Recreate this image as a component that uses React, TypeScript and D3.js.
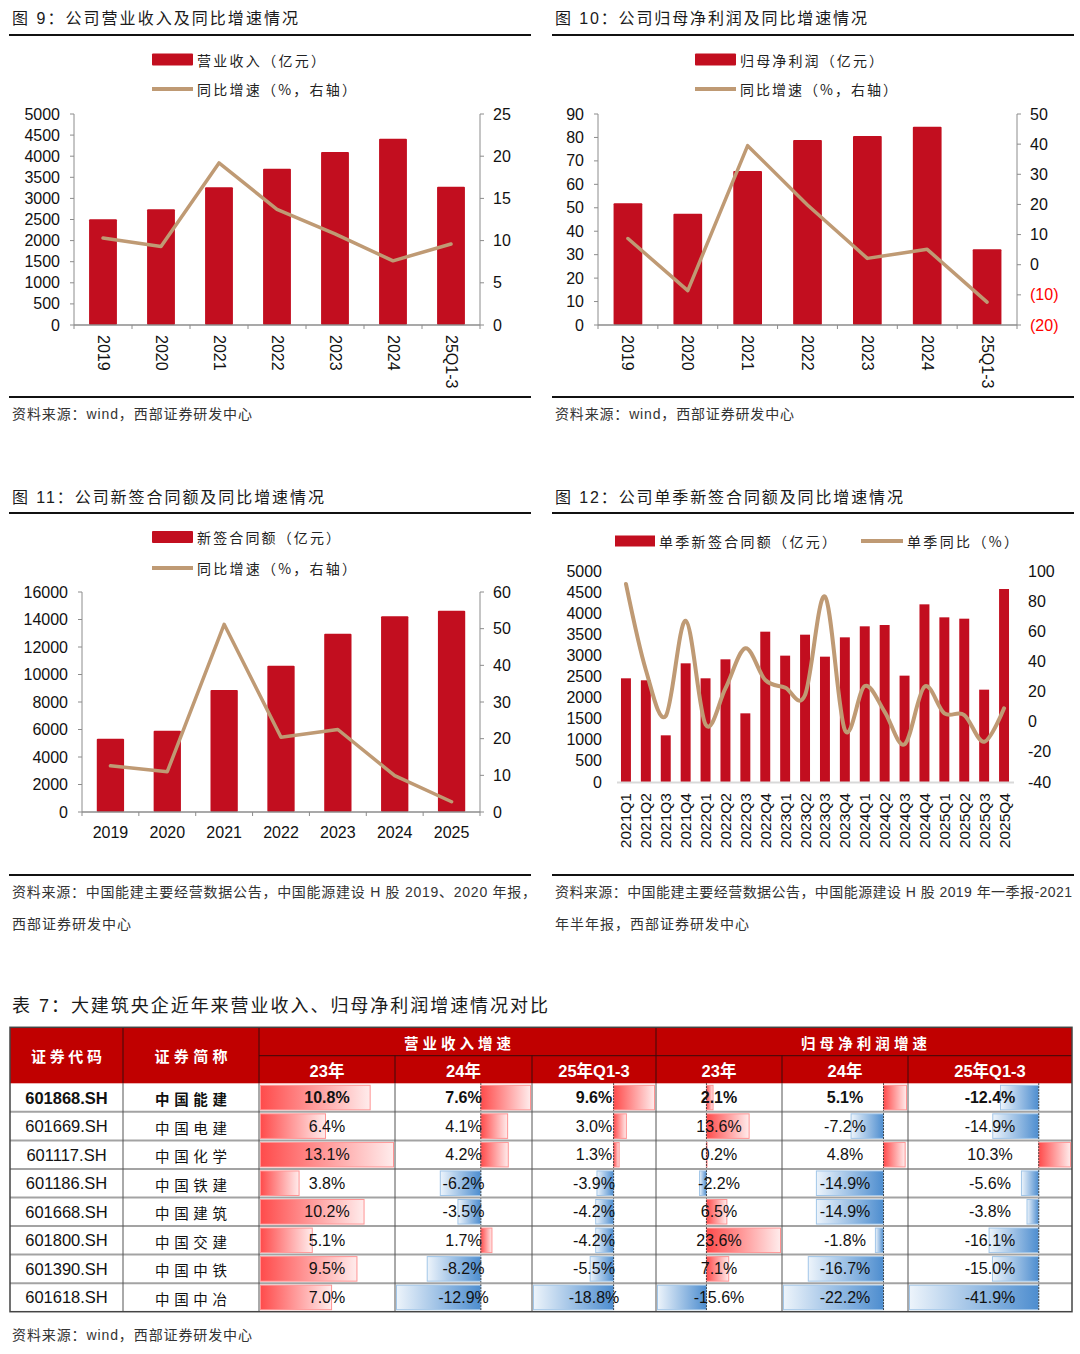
import React from 'react';
import * as d3 from 'd3';

// 图9 营业收入
const years = ['2019', '2020', '2021', '2022', '2023', '2024', '25Q1-3'];
const revenue = [2505, 2740, 3262, 3705, 4100, 4415, 3278];
const revenueYoY = [10.3, 9.3, 19.2, 13.7, 10.8, 7.6, 9.6];

// 图10 归母净利润
const profit = [51.9, 47.5, 65.7, 78.9, 80.6, 84.6, 32.3];
const profitYoY = [8.7, -8.6, 39.5, 19.8, 2.1, 5.1, -12.4];

// 图11 新签合同额
const contractYears = ['2019', '2020', '2021', '2022', '2023', '2024', '2025'];
const contracts = [5330, 5915, 8870, 10640, 12970, 14230, 14640];
const contractYoY = [12.6, 11.0, 51.2, 20.4, 22.5, 9.9, 2.8];

// 图12 单季新签
const quarters = [
  '2021Q1', '2021Q2', '2021Q3', '2021Q4', '2022Q1', '2022Q2', '2022Q3', '2022Q4',
  '2023Q1', '2023Q2', '2023Q3', '2023Q4', '2024Q1', '2024Q2', '2024Q3', '2024Q4',
  '2025Q1', '2025Q2', '2025Q3', '2025Q4',
];
const qContracts = [2457, 2410, 1106, 2812, 2457, 2907, 1627, 3562, 2994, 3491, 2970, 3428, 3689, 3720, 2520, 4210, 3902, 3870, 2188, 4573];
const qYoY = [91.4, 34.3, 3.8, 67.0, -1.8, 22.1, 48.7, 27.7, 22.6, 17.7, 83.0, -5.5, 23.7, 6.6, -15.0, 23.2, 5.6, 4.4, -13.3, 8.9];

// 表7
const codes = ['601868.SH', '601669.SH', '601117.SH', '601186.SH', '601668.SH', '601800.SH', '601390.SH', '601618.SH'];
const names = ['中国能建', '中国电建', '中国化学', '中国铁建', '中国建筑', '中国交建', '中国中铁', '中国中冶'];
const rev23 = [10.8, 6.4, 13.1, 3.8, 10.2, 5.1, 9.5, 7.0];
const rev24 = [7.6, 4.1, 4.2, -6.2, -3.5, 1.7, -8.2, -12.9];
const rev25 = [9.6, 3.0, 1.3, -3.9, -4.2, -4.2, -5.5, -18.8];
const np23 = [2.1, 13.6, 0.2, -2.2, 6.5, 23.6, 7.1, -15.6];
const np24 = [5.1, -7.2, 4.8, -14.9, -14.9, -1.8, -16.7, -22.2];
const np25 = [-12.4, -14.9, 10.3, -5.6, -3.8, -16.1, -15.0, -41.9];
const subHeads = ['23年', '24年', '25年Q1-3', '23年', '24年', '25年Q1-3'];

const NUM = "'Liberation Sans', Arial, 'Noto Sans CJK SC', sans-serif";
const CJK = "'Noto Sans CJK SC', 'Liberation Sans', sans-serif";
const RED = '#c20e1f';
const TAN = '#bf9a74';
const AXIS = '#8c8c8c';

type Note = { text: string; y: number; len: number };

function Frame(p: { x: number; x1: number; x2: number; titleY: number; title: string; titleLen: number; ruleTop: number; ruleBottom: number; notes: Note[] }) {
  return (
    <g>
      <text x={p.x} y={p.titleY} dominantBaseline="central" fontFamily={NUM} fontSize={16} fill="#1a1a1a"
        textLength={p.titleLen} lengthAdjust="spacing">{p.title}</text>
      <line x1={p.x1} x2={p.x2} y1={p.ruleTop} y2={p.ruleTop} stroke="#111" strokeWidth={2} />
      <line x1={p.x1} x2={p.x2} y1={p.ruleBottom} y2={p.ruleBottom} stroke="#111" strokeWidth={2} />
      {p.notes.map((n, i) => (
        <text key={i} x={p.x} y={n.y} dominantBaseline="central" fontFamily={NUM} fontSize={14} fill="#333"
          textLength={n.len} lengthAdjust="spacing">{n.text}</text>
      ))}
    </g>
  );
}

function Combo(p: any) {
  const x = d3.scaleBand<string>().domain(p.cats).range([p.left, p.right]).paddingInner(0.52).paddingOuter(0.26);
  const yL = d3.scaleLinear().domain([0, p.lMax]).range([p.bottom, p.top]);
  const yR = d3.scaleLinear().domain([p.rMin, p.rMax]).range([p.bottom, p.top]);
  const lTicks = d3.range(0, p.lMax + p.lStep / 2, p.lStep);
  const rTicks = d3.range(p.rMin, p.rMax + p.rStep / 2, p.rStep);
  const cx = (c: string) => x(c)! + x.bandwidth() / 2;
  const path = d3.line<number>().x((_, i) => cx(p.cats[i])).y(d => yR(d))(p.line)!;
  const bounds = d3.range(p.cats.length + 1).map(i => p.left + i * x.step());
  const tx = p.legendX + 45;
  return (
    <g>
      {/* legend */}
      <rect x={p.legendX} y={p.leg1Y - 6} width={41} height={12} fill={RED} rx={1} />
      <text x={tx} y={p.leg1Y} dominantBaseline="central" fontFamily={CJK} fontSize={14} fill="#222"
        textLength={p.leg1Len} lengthAdjust="spacing">{p.leg1}</text>
      <line x1={p.legendX} x2={p.legendX + 41} y1={p.leg2Y} y2={p.leg2Y} stroke={TAN} strokeWidth={4} />
      <text x={tx} y={p.leg2Y} dominantBaseline="central" fontFamily={CJK} fontSize={14} fill="#222"
        textLength={p.leg2Len} lengthAdjust="spacing">{p.leg2}</text>

      {/* bars */}
      {p.bars.map((v: number, i: number) => (
        <rect key={i} x={x(p.cats[i])} y={yL(v)} width={x.bandwidth()} height={p.bottom - yL(v)} fill={RED} rx={1} />
      ))}

      {/* axes */}
      <line x1={p.left} x2={p.left} y1={p.top} y2={p.bottom} stroke={AXIS} />
      <line x1={p.right} x2={p.right} y1={p.top} y2={p.bottom} stroke={AXIS} />
      <line x1={p.left} x2={p.right} y1={p.bottom} y2={p.bottom} stroke={AXIS} strokeWidth={1.5} />
      {bounds.map((b, i) => (
        <line key={i} x1={b} x2={b} y1={p.bottom} y2={p.bottom + 4} stroke={AXIS} />
      ))}
      {lTicks.map(t => (
        <g key={t}>
          <line x1={p.left - 4} x2={p.left} y1={yL(t)} y2={yL(t)} stroke={AXIS} />
          <text x={p.left - 14} y={yL(t)} textAnchor="end" dominantBaseline="central" fontFamily={NUM} fontSize={16} fill="#111">{t}</text>
        </g>
      ))}
      {rTicks.map(t => (
        <g key={t}>
          <line x1={p.right} x2={p.right + 4} y1={yR(t)} y2={yR(t)} stroke={AXIS} />
          <text x={p.right + 13} y={yR(t)} dominantBaseline="central" fontFamily={NUM} fontSize={16}
            fill={t < 0 ? '#ff0000' : '#111'}>{t < 0 ? `(${-t})` : t}</text>
        </g>
      ))}

      {/* line */}
      <path d={path} fill="none" stroke={TAN} strokeWidth={3.5} strokeLinejoin="round" strokeLinecap="round" />

      {/* category labels */}
      {p.cats.map((c: string) =>
        p.rotate ? (
          <text key={c} transform={`translate(${cx(c)},${p.bottom + 10}) rotate(90)`} dominantBaseline="central"
            fontFamily={NUM} fontSize={16} fill="#111">{c}</text>
        ) : (
          <text key={c} x={cx(c)} y={p.bottom + 20} textAnchor="middle" dominantBaseline="central"
            fontFamily={NUM} fontSize={16} fill="#111">{c}</text>
        )
      )}
    </g>
  );
}

function Quarterly() {
  const left = 616, right = 1014, top = 571, bottom = 782;
  const x = d3.scaleBand<string>().domain(quarters).range([left, right]).paddingInner(0.5).paddingOuter(0.25);
  const yL = d3.scaleLinear().domain([0, 5000]).range([bottom, top]);
  const yR = d3.scaleLinear().domain([-40, 100]).range([bottom, top]);
  const cx = (c: string) => x(c)! + x.bandwidth() / 2;
  const path = d3.line<number>().x((_, i) => cx(quarters[i])).y(d => yR(d)).curve(d3.curveCardinal.tension(0))(qYoY)!;
  return (
    <g>
      <rect x={615} y={535.5} width={40} height={11} fill={RED} />
      <text x={659} y={541} dominantBaseline="central" fontFamily={CJK} fontSize={14} fill="#222"
        textLength={177} lengthAdjust="spacing">单季新签合同额（亿元）</text>
      <line x1={861} x2={903} y1={541} y2={541} stroke={TAN} strokeWidth={4} />
      <text x={907} y={541} dominantBaseline="central" fontFamily={CJK} fontSize={14} fill="#222"
        textLength={111} lengthAdjust="spacing">单季同比（%）</text>

      {qContracts.map((v, i) => (
        <rect key={i} x={x(quarters[i])} y={yL(v)} width={x.bandwidth()} height={bottom - yL(v)} fill={RED} />
      ))}
      <line x1={left + 1} x2={right} y1={bottom + 0.5} y2={bottom + 0.5} stroke="#d9d9d9" strokeWidth={2} />
      {d3.range(0, 5001, 500).map(t => (
        <text key={t} x={602} y={yL(t)} textAnchor="end" dominantBaseline="central" fontFamily={NUM} fontSize={16} fill="#111">{t}</text>
      ))}
      {d3.range(-40, 101, 20).map(t => (
        <text key={t} x={1028} y={yR(t)} dominantBaseline="central" fontFamily={NUM} fontSize={16} fill="#111">{t}</text>
      ))}
      <path d={path} fill="none" stroke={TAN} strokeWidth={4} strokeLinejoin="round" strokeLinecap="round" />
      {quarters.map(q => (
        <text key={q} transform={`translate(${cx(q)},${bottom + 11}) rotate(-90)`} textAnchor="end" dominantBaseline="central"
          fontFamily={NUM} fontSize={15.5} fill="#111">{q}</text>
      ))}
    </g>
  );
}

function DataTable() {
  const colX = [10, 123, 259, 395, 532, 656, 782, 908, 1072];
  const top = 1027.3, mid = 1055.7, hb = 1083.3, rh = 28.55;
  const bottom = hb + rh * codes.length;
  const series = [rev23, rev24, rev25, np23, np24, np25];
  const rowY = (i: number) => hb + rh * i;
  return (
    <g>
      <defs>
        <linearGradient id="gPos" x1="0" x2="1" y1="0" y2="0">
          <stop offset="0" stopColor="#ff4b4b" />
          <stop offset="1" stopColor="#ffecec" />
        </linearGradient>
        <linearGradient id="gNeg" x1="0" x2="1" y1="0" y2="0">
          <stop offset="0" stopColor="#edf4fb" />
          <stop offset="1" stopColor="#4d8dcf" />
        </linearGradient>
      </defs>
      <text x={12} y={1006} dominantBaseline="central" fontFamily={NUM} fontSize={18} fill="#1a1a1a"
        textLength={536} lengthAdjust="spacing">表 7：大建筑央企近年来营业收入、归母净利润增速情况对比</text>

      {/* header */}
      <rect x={colX[0]} y={top} width={colX[8] - colX[0]} height={hb - top} fill="#c00000" />
      <line x1={colX[2]} x2={colX[8]} y1={mid} y2={mid} stroke="#3a0a0a" />
      {[1, 2, 5].map(j => <line key={j} x1={colX[j]} x2={colX[j]} y1={top} y2={hb} stroke="#3a0a0a" />)}
      {[3, 4, 6, 7].map(j => <line key={j} x1={colX[j]} x2={colX[j]} y1={mid} y2={hb} stroke="#3a0a0a" />)}
      <text x={(colX[0] + colX[1]) / 2} y={(top + hb) / 2} textAnchor="middle" dominantBaseline="central" fontFamily={CJK}
        fontSize={15} fontWeight={700} fill="#fff" textLength={71} lengthAdjust="spacing">证券代码</text>
      <text x={(colX[1] + colX[2]) / 2} y={(top + hb) / 2} textAnchor="middle" dominantBaseline="central" fontFamily={CJK}
        fontSize={15} fontWeight={700} fill="#fff" textLength={73} lengthAdjust="spacing">证券简称</text>
      <text x={(colX[2] + colX[5]) / 2} y={(top + mid) / 2 + 1} textAnchor="middle" dominantBaseline="central" fontFamily={CJK}
        fontSize={14.5} fontWeight={700} fill="#fff" textLength={107} lengthAdjust="spacing">营业收入增速</text>
      <text x={(colX[5] + colX[8]) / 2} y={(top + mid) / 2 + 1} textAnchor="middle" dominantBaseline="central" fontFamily={CJK}
        fontSize={14.5} fontWeight={700} fill="#fff" textLength={126} lengthAdjust="spacing">归母净利润增速</text>
      {subHeads.map((h, j) => (
        <text key={j} x={(colX[j + 2] + colX[j + 3]) / 2} y={(mid + hb) / 2 + 1} textAnchor="middle" dominantBaseline="central"
          fontFamily={NUM} fontSize={16.5} fontWeight={700} fill="#fff">{h}</text>
      ))}

      {/* data bars */}
      {series.map((vals, j) => {
        const x0 = colX[j + 2], x1 = colX[j + 3];
        const lo = Math.min(0, d3.min(vals)!), hi = Math.max(0, d3.max(vals)!);
        const sx = d3.scaleLinear().domain([lo, hi]).range([x0 + 1.5, x1 - 1.5]);
        return (
          <g key={j}>
            {vals.map((v, i) => {
              const a = sx(Math.min(0, v)), b = sx(Math.max(0, v));
              return (
                <rect key={i} x={a} y={rowY(i) + 2} width={Math.max(b - a, 0.5)} height={rh - 4}
                  fill={v >= 0 ? 'url(#gPos)' : 'url(#gNeg)'} stroke={v >= 0 ? '#ff9494' : '#a2c6e8'} strokeWidth={1} />
              );
            })}
            {lo < 0 && (
              <line x1={sx(0)} x2={sx(0)} y1={hb} y2={bottom} stroke="#222" strokeDasharray="1.5,1.5" />
            )}
          </g>
        );
      })}

      {/* grid */}
      {d3.range(1, codes.length).map(i => (
        <line key={i} x1={colX[0]} x2={colX[8]} y1={rowY(i)} y2={rowY(i)} stroke="#a3a3a3" strokeWidth={2} />
      ))}
      {colX.slice(1, 8).map((cx, j) => (
        <line key={j} x1={cx} x2={cx} y1={hb} y2={bottom} stroke="#555" strokeWidth={1} />
      ))}
      <rect x={colX[0]} y={top} width={colX[8] - colX[0]} height={bottom - top} fill="none" stroke="#444" strokeWidth={1.5} />

      {/* text */}
      {codes.map((c, i) => (
        <g key={c}>
          <text x={(colX[0] + colX[1]) / 2} y={rowY(i) + rh / 2} textAnchor="middle" dominantBaseline="central" fontFamily={NUM}
            fontSize={16.5} fontWeight={i === 0 ? 700 : 400} fill="#111">{c}</text>
          <text x={(colX[1] + colX[2]) / 2} y={rowY(i) + rh / 2 + 1} textAnchor="middle" dominantBaseline="central" fontFamily={CJK}
            fontSize={14.5} fontWeight={i === 0 ? 700 : 400} fill="#111" textLength={72} lengthAdjust="spacing">{names[i]}</text>
          {series.map((vals, j) => (
            <text key={j} x={(colX[j + 2] + colX[j + 3]) / 2} y={rowY(i) + rh / 2} textAnchor="middle" dominantBaseline="central"
              fontFamily={NUM} fontSize={16} fontWeight={i === 0 ? 700 : 400} fill="#111">{vals[i].toFixed(1)}%</text>
          ))}
        </g>
      ))}

      <text x={12} y={1335} dominantBaseline="central" fontFamily={NUM} fontSize={14} fill="#333"
        textLength={240} lengthAdjust="spacing">资料来源：wind，西部证券研发中心</text>
    </g>
  );
}

export default function App() {
  return (
    <div style={{ position: 'absolute', left: 0, top: 0, background: '#fff' }}>
      <svg width={1080} height={1354} viewBox="0 0 1080 1354" style={{ display: 'block' }}>
        <rect width={1080} height={1354} fill="#fff" />

        <Frame x={12} x1={9} x2={531} titleY={18} title="图 9：公司营业收入及同比增速情况" titleLen={286}
          ruleTop={35} ruleBottom={397} notes={[{ text: '资料来源：wind，西部证券研发中心', y: 414, len: 240 }]} />
        <Combo cats={years} bars={revenue} line={revenueYoY} legendX={152} leg1Y={59.5} leg2Y={89}
          leg1="营业收入（亿元）" leg1Len={128} leg2="同比增速（%，右轴）" leg2Len={159}
          left={74} right={480} top={114} bottom={325} lMax={5000} lStep={500} rMin={0} rMax={25} rStep={5} rotate />

        <Frame x={555} x1={552} x2={1074} titleY={18} title="图 10：公司归母净利润及同比增速情况" titleLen={312}
          ruleTop={35} ruleBottom={397} notes={[{ text: '资料来源：wind，西部证券研发中心', y: 414, len: 239 }]} />
        <Combo cats={years} bars={profit} line={profitYoY} legendX={695} leg1Y={59.5} leg2Y={89}
          leg1="归母净利润（亿元）" leg1Len={143} leg2="同比增速（%，右轴）" leg2Len={157}
          left={598} right={1017} top={114} bottom={325} lMax={90} lStep={10} rMin={-20} rMax={50} rStep={10} rotate />

        <Frame x={12} x1={9} x2={531} titleY={497} title="图 11：公司新签合同额及同比增速情况" titleLen={312}
          ruleTop={513} ruleBottom={875} notes={[
            { text: '资料来源：中国能建主要经营数据公告，中国能源建设 H 股 2019、2020 年报，', y: 892, len: 524 },
            { text: '西部证券研发中心', y: 924, len: 119 },
          ]} />
        <Combo cats={contractYears} bars={contracts} line={contractYoY} legendX={152} leg1Y={537} leg2Y={568}
          leg1="新签合同额（亿元）" leg1Len={143} leg2="同比增速（%，右轴）" leg2Len={159}
          left={82} right={480} top={592} bottom={812} lMax={16000} lStep={2000} rMin={0} rMax={60} rStep={10} rotate={false} />

        <Frame x={555} x1={552} x2={1074} titleY={497} title="图 12：公司单季新签合同额及同比增速情况" titleLen={348}
          ruleTop={513} ruleBottom={875} notes={[
            { text: '资料来源：中国能建主要经营数据公告，中国能源建设 H 股 2019 年一季报-2021', y: 892, len: 517 },
            { text: '年半年报，西部证券研发中心', y: 924, len: 194 },
          ]} />
        <Quarterly />

        <DataTable />
      </svg>
    </div>
  );
}
